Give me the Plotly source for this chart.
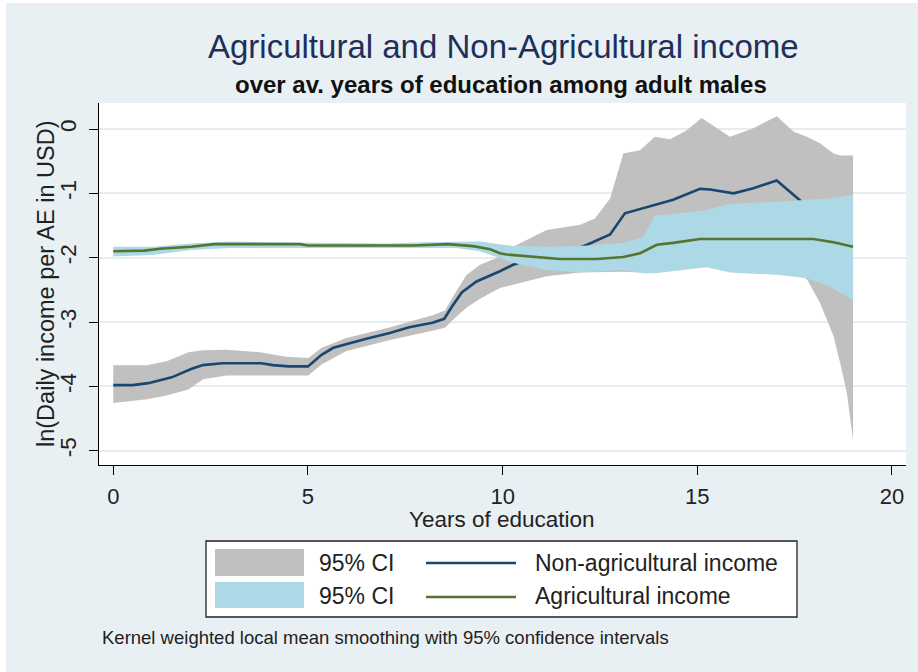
import plotly.graph_objects as go

# ---------------- data ----------------
# Non-agricultural income: local mean and 95% CI
x_nonag = [0, 0.5, 0.9, 1.1, 1.5, 2.0, 2.3, 2.8, 3.8, 4.1, 4.5, 5.0, 5.35, 5.65, 6.0, 6.5,
           7.1, 7.6, 8.2, 8.5, 8.7, 8.95, 9.33, 9.68, 9.93, 10.27, 10.8, 11.4, 12.0, 12.24,
           12.76, 13.14, 13.7, 14.38, 15.07, 15.33, 15.93, 16.44, 17.04, 17.64, 18.0, 18.5, 18.9]
y_nonag = [-3.98, -3.98, -3.95, -3.92, -3.86, -3.73, -3.67, -3.64, -3.64, -3.67, -3.69, -3.69,
           -3.51, -3.40, -3.34, -3.26, -3.17, -3.08, -3.01, -2.95, -2.76, -2.54, -2.37, -2.28,
           -2.21, -2.11, -2.00, -1.91, -1.84, -1.78, -1.64, -1.31, -1.22, -1.10, -0.93, -0.94,
           -1.00, -0.92, -0.80, -1.11, -1.37, -1.75, -2.30]

x_nonag_ci = [0, 0.86, 1.37, 1.93, 2.31, 2.91, 3.77, 4.45, 5.01, 5.35, 5.99, 7.11, 8.22, 8.52,
              8.73, 9.07, 9.42, 9.93, 10.27, 11.13, 11.99, 12.37, 12.76, 13.10, 13.53, 13.91,
              14.30, 14.73, 15.11, 15.84, 16.44, 17.04, 17.47, 17.81, 18.15, 18.5, 18.67,
              18.84, 19.0]
nonag_upper = [-3.67, -3.67, -3.61, -3.47, -3.44, -3.43, -3.47, -3.54, -3.56, -3.40, -3.25,
               -3.08, -2.89, -2.82, -2.60, -2.27, -2.11, -1.98, -1.83, -1.57, -1.49, -1.39,
               -1.08, -0.38, -0.33, -0.12, -0.16, -0.02, 0.17, -0.12, 0.01, 0.20, -0.04,
               -0.12, -0.22, -0.38, -0.41, -0.41, -0.41]
nonag_lower = [-4.26, -4.20, -4.14, -4.05, -3.89, -3.83, -3.82, -3.83, -3.83, -3.66, -3.45,
               -3.28, -3.13, -3.09, -2.96, -2.78, -2.64, -2.47, -2.42, -2.29, -2.23, -2.22,
               -2.22, -2.22, -2.23, -2.20, -2.16, -2.12, -2.10, -2.15, -2.18, -2.20, -2.24,
               -2.33, -2.70, -3.22, -3.64, -4.10, -4.83]

# Agricultural income: local mean and 95% CI
x_ag = [0, 0.8, 1.2, 2.0, 2.6, 4.8, 5.0, 7.4, 7.7, 8.6, 9.24, 9.68, 9.93, 10.1, 10.79, 11.47,
        12.42, 13.1, 13.53, 13.96, 14.38, 15.07, 17.98, 18.5, 19.0]
y_ag = [-1.90, -1.89, -1.86, -1.83, -1.79, -1.79, -1.81, -1.82, -1.81, -1.79, -1.82, -1.87,
        -1.93, -1.95, -1.99, -2.02, -2.02, -1.99, -1.93, -1.80, -1.77, -1.71, -1.71, -1.76,
        -1.83]

x_ag_ci = [0, 1.0, 2.0, 3.0, 4.0, 5.0, 6.0, 7.0, 8.0, 8.8, 9.42, 10.27, 11.13, 11.99, 13.10,
           13.62, 13.91, 14.56, 15.24, 15.84, 17.13, 17.81, 18.41, 19.0]
ag_upper = [-1.83, -1.83, -1.78, -1.75, -1.76, -1.77, -1.78, -1.78, -1.76, -1.75, -1.75,
            -1.82, -1.83, -1.82, -1.77, -1.67, -1.35, -1.31, -1.26, -1.16, -1.13, -1.10,
            -1.08, -1.02]
ag_lower = [-1.98, -1.96, -1.88, -1.85, -1.85, -1.85, -1.86, -1.86, -1.85, -1.85, -1.90,
            -2.08, -2.19, -2.23, -2.19, -2.24, -2.24, -2.19, -2.15, -2.23, -2.27, -2.32,
            -2.45, -2.66]

x_ticks = [0, 5, 10, 15, 20]
y_ticks = [-5, -4, -3, -2, -1, 0]

# ---------------- styling ----------------
FONT = "Liberation Sans, Arial, sans-serif"
BG = "#e9f0f3"
GRID = "#e4edf0"
GRAY = "#c0c0c0"
LTBLUE = "#add8e6"
NAVY = "#1a476f"
GREEN = "#55752f"

# plot area in pixels: x 99..906, y 103..465
L, R, T, B = 99, 906, 103, 465
W, H = 918, 672


def px(xp):
    return (xp - L) / (R - L)


def py(yp):
    return (B - yp) / (B - T)


fig = go.Figure()

fig.add_trace(go.Scatter(
    x=x_nonag_ci + x_nonag_ci[::-1], y=nonag_upper + nonag_lower[::-1],
    fill="toself", fillcolor=GRAY, line=dict(width=0), mode="lines",
    hoverinfo="skip", showlegend=False, name="95% CI"))
fig.add_trace(go.Scatter(
    x=x_nonag, y=y_nonag, mode="lines", line=dict(color=NAVY, width=2.6),
    showlegend=False, name="Non-agricultural income"))
fig.add_trace(go.Scatter(
    x=x_ag_ci + x_ag_ci[::-1], y=ag_upper + ag_lower[::-1],
    fill="toself", fillcolor=LTBLUE, line=dict(width=0), mode="lines",
    hoverinfo="skip", showlegend=False, name="95% CI"))
fig.add_trace(go.Scatter(
    x=x_ag, y=y_ag, mode="lines", line=dict(color=GREEN, width=2.6),
    showlegend=False, name="Agricultural income"))

fig.update_layout(
    width=W, height=H,
    margin=dict(l=L, r=W - R, t=T, b=H - B, autoexpand=False),
    paper_bgcolor=BG, plot_bgcolor="white",
    font=dict(family=FONT, color="#1a1a1a"),
    showlegend=False,
)

fig.update_xaxes(
    range=[-0.367, 20.36], tickvals=x_ticks, ticktext=[str(v) for v in x_ticks],
    showgrid=False, zeroline=False, showline=True, linecolor="black", linewidth=1.3,
    ticks="outside", ticklen=9, tickwidth=1.3, tickcolor="black", automargin=False,
    tickfont=dict(size=22, family=FONT, color="#222"), ticklabelstandoff=2,
)
fig.update_yaxes(
    range=[-5.222, 0.404], tickvals=y_ticks, ticktext=[str(v) for v in y_ticks],
    showgrid=True, gridcolor=GRID, gridwidth=2, zeroline=False,
    showline=True, linecolor="black", linewidth=1.3, automargin=False,
    ticks="outside", ticklen=9, tickwidth=1.3, tickcolor="black", tickangle=-90,
    tickfont=dict(size=22.5, family=FONT, color="#222"), ticklabelstandoff=4,
)

shapes = []
# thin white border of the outer region (top / left)
shapes.append(dict(type="rect", xref="paper", yref="paper", x0=px(0), x1=px(W), y0=py(0), y1=py(3),
                   fillcolor="white", line=dict(width=0), layer="above"))
shapes.append(dict(type="rect", xref="paper", yref="paper", x0=px(0), x1=px(6), y0=py(H), y1=py(0),
                   fillcolor="white", line=dict(width=0), layer="above"))
# legend box
shapes.append(dict(type="rect", xref="paper", yref="paper", x0=px(206), x1=px(797), y0=py(617), y1=py(541),
                   fillcolor="white", line=dict(color="#222", width=1.3), layer="above"))
shapes.append(dict(type="rect", xref="paper", yref="paper", x0=px(215), x1=px(304), y0=py(576), y1=py(549),
                   fillcolor=GRAY, line=dict(width=0), layer="above"))
shapes.append(dict(type="rect", xref="paper", yref="paper", x0=px(215), x1=px(304), y0=py(608), y1=py(582),
                   fillcolor=LTBLUE, line=dict(width=0), layer="above"))
shapes.append(dict(type="line", xref="paper", yref="paper", x0=px(426), x1=px(516), y0=py(563), y1=py(563),
                   line=dict(color=NAVY, width=2.6), layer="above"))
shapes.append(dict(type="line", xref="paper", yref="paper", x0=px(426), x1=px(516), y0=py(597), y1=py(597),
                   line=dict(color=GREEN, width=2.6), layer="above"))
fig.update_layout(shapes=shapes)

ann = []
ann.append(dict(text="Agricultural and Non-Agricultural income", x=px(503), y=py(46),
                xref="paper", yref="paper", showarrow=False, xanchor="center", yanchor="middle",
                font=dict(size=33, family=FONT, color="#1f2f5c")))
ann.append(dict(text="<b>over av. years of education among adult males</b>", x=px(501), y=py(84),
                xref="paper", yref="paper", showarrow=False, xanchor="center", yanchor="middle",
                font=dict(size=24, family=FONT, color="#111")))
ann.append(dict(text="Years of education", x=px(502), y=py(519),
                xref="paper", yref="paper", showarrow=False, xanchor="center", yanchor="middle",
                font=dict(size=22.5, family=FONT, color="#222")))
ann.append(dict(text="ln(Daily income per AE in USD)", x=px(46), y=py(284), textangle=-90,
                xref="paper", yref="paper", showarrow=False, xanchor="center", yanchor="middle",
                font=dict(size=23.5, family=FONT, color="#222")))
ann.append(dict(text="95% CI", x=px(317), y=py(563),
                xref="paper", yref="paper", showarrow=False, xanchor="left", yanchor="middle",
                font=dict(size=23, family=FONT, color="#222")))
ann.append(dict(text="95% CI", x=px(317), y=py(596),
                xref="paper", yref="paper", showarrow=False, xanchor="left", yanchor="middle",
                font=dict(size=23, family=FONT, color="#222")))
ann.append(dict(text="Non-agricultural income", x=px(533), y=py(563),
                xref="paper", yref="paper", showarrow=False, xanchor="left", yanchor="middle",
                font=dict(size=23, family=FONT, color="#222")))
ann.append(dict(text="Agricultural income", x=px(533), y=py(596),
                xref="paper", yref="paper", showarrow=False, xanchor="left", yanchor="middle",
                font=dict(size=23, family=FONT, color="#222")))
ann.append(dict(text="Kernel weighted local mean smoothing with 95% confidence intervals", x=px(100), y=py(637),
                xref="paper", yref="paper", showarrow=False, xanchor="left", yanchor="middle",
                font=dict(size=18.5, family=FONT, color="#222")))
fig.update_layout(annotations=ann)

fig.write_html("out.html", config={"displayModeBar": False},
               post_script="document.body.style.margin='0px';document.body.style.padding='0px';")
